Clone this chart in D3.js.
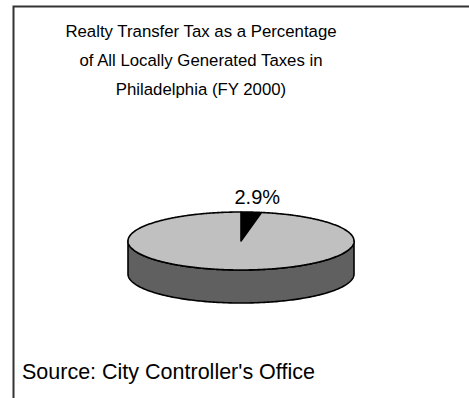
<!DOCTYPE html>
<html>
<head>
<meta charset="utf-8">
<script src="https://cdn.jsdelivr.net/npm/d3@7"></script>
<style>
  html, body { margin: 0; padding: 0; background: #fff; overflow: hidden; }
  svg { display: block; }
  text { font-family: "Liberation Sans", Arial, sans-serif; fill: #000; }
</style>
</head>
<body>
<svg id="chart" width="469" height="398"></svg>
<script>
// Share of locally generated taxes (FY 2000)
const categories = ["Realty Transfer Tax", "All Other Local Taxes"];
const shares = [2.9, 97.1];
const sliceColors = ["#000000", "#c0c0c0"];
const titleLines = [
  "Realty Transfer Tax as a Percentage",
  "of All Locally Generated Taxes in",
  "Philadelphia (FY 2000)"
];
const sourceNote = "Source: City Controller's Office";

const svg = d3.select("#chart");

// frame
svg.append("rect")
  .attr("x", 13.5).attr("y", 6.5)
  .attr("width", 480).attr("height", 420)
  .attr("fill", "#fff").attr("stroke", "#333").attr("stroke-width", 2);

// title
svg.append("g").selectAll("text").data(titleLines).join("text")
  .attr("x", 201)
  .attr("y", (d, i) => 37 + i * 29)
  .attr("text-anchor", "middle")
  .attr("font-size", 16.8)
  .text(d => d);

// pie geometry (tilted ellipse)
const cx = 241, cy = 241, rx = 113, ry = 29, depth = 33;
const pt = a => [cx + rx * Math.sin(a), cy - ry * Math.cos(a)];

const pie = d3.pie().sort(null).value(d => d.v);
const arcs = pie(categories.map((c, i) => ({ c, v: shares[i], col: sliceColors[i] })));

// side wall: front half of the rim
const sideSteps = d3.range(0, 181).map(k => Math.PI / 2 + k * Math.PI / 180);
const sidePath = d3.path();
sidePath.moveTo(...pt(sideSteps[0]));
sideSteps.forEach(a => sidePath.lineTo(...pt(a)));
sideSteps.slice().reverse().forEach(a => { const p = pt(a); sidePath.lineTo(p[0], p[1] + depth); });
sidePath.closePath();
svg.append("path").attr("d", sidePath.toString())
  .attr("fill", "#606060").attr("stroke", "#000").attr("stroke-width", 1.6)
  .attr("stroke-linejoin", "round");

// top face slices
function slicePath(d) {
  const p = d3.path();
  p.moveTo(cx, cy);
  const n = Math.max(2, Math.ceil((d.endAngle - d.startAngle) / 0.01));
  for (let k = 0; k <= n; k++) {
    const a = d.startAngle + (d.endAngle - d.startAngle) * k / n;
    p.lineTo(...pt(a));
  }
  p.closePath();
  return p.toString();
}
svg.append("g").selectAll("path").data(arcs).join("path")
  .attr("d", slicePath)
  .attr("fill", d => d.data.col)
  .attr("stroke", "#000").attr("stroke-width", 1.6)
  .attr("stroke-linejoin", "round");

// value label for the highlighted slice
const lab = arcs[0];
const mid = (lab.startAngle + lab.endAngle) / 2;
svg.append("text")
  .attr("x", pt(mid)[0] + 6)
  .attr("y", 204)
  .attr("text-anchor", "middle")
  .attr("font-size", 20)
  .text(d3.format(".1f")(lab.data.v) + "%");

// source note
svg.append("text")
  .attr("x", 22).attr("y", 379)
  .attr("font-size", 21.5)
  .text(sourceNote);
</script>
</body>
</html>
